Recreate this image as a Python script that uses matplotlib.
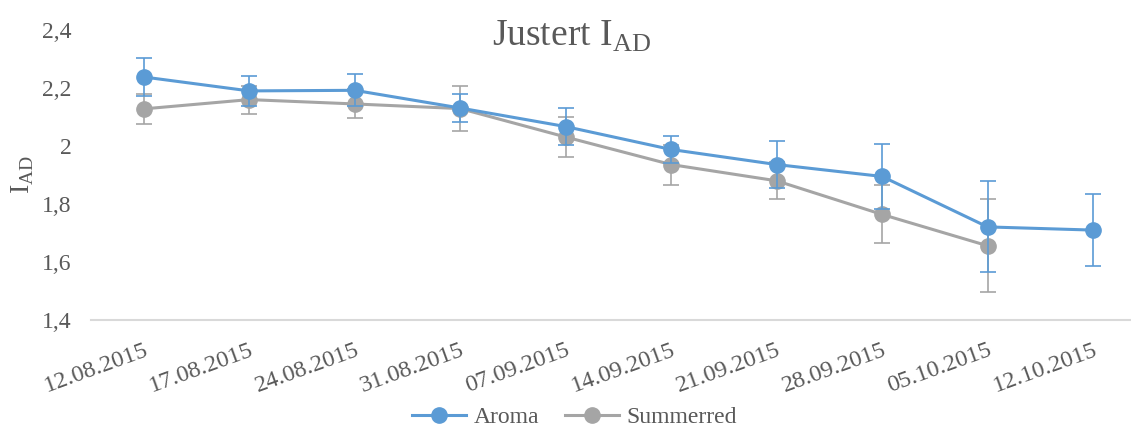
import matplotlib
matplotlib.use("Agg")
import matplotlib.pyplot as plt

plt.rcParams["font.family"] = ["Liberation Serif", "DejaVu Serif"]
plt.rcParams["mathtext.fontset"] = "custom"
plt.rcParams["mathtext.rm"] = "Liberation Serif"

dates = ["12.08.2015", "17.08.2015", "24.08.2015", "31.08.2015", "07.09.2015",
         "14.09.2015", "21.09.2015", "28.09.2015", "05.10.2015", "12.10.2015"]
aroma = [2.238, 2.190, 2.192, 2.131, 2.067, 1.988, 1.936, 1.895, 1.721, 1.710]
aroma_err = [0.066, 0.052, 0.055, 0.048, 0.063, 0.048, 0.081, 0.113, 0.157, 0.124]
summerred = [2.128, 2.160, 2.145, 2.129, 2.031, 1.936, 1.880, 1.764, 1.656]
summerred_err = [0.052, 0.048, 0.050, 0.078, 0.070, 0.069, 0.064, 0.100, 0.160]

blue = "#5B9BD5"
grey = "#A5A5A5"
text_col = "#595959"

fig = plt.figure(figsize=(11.31, 4.28), dpi=100)
ax = fig.add_axes([91 / 1131, 1 - 320 / 428, 1040 / 1131, 290 / 428])

x_a = list(range(len(aroma)))
x_s = list(range(len(summerred)))

ax.errorbar(x_s, summerred, yerr=summerred_err, color=grey, ecolor=grey,
            elinewidth=1.2, capsize=5.5, capthick=1.2, lw=2.2, marker="o",
            markersize=11, label="Summerred", zorder=3)
ax.errorbar(x_a, aroma, yerr=aroma_err, color=blue, ecolor=blue,
            elinewidth=1.2, capsize=5.5, capthick=1.2, lw=2.2, marker="o",
            markersize=11, label="Aroma", zorder=4)

ax.set_xlim(-0.5, 9.36)
ax.set_ylim(1.4, 2.4)
ax.set_yticks([1.4, 1.6, 1.8, 2.0, 2.2, 2.4])
ax.set_yticklabels(["1,4", "1,6", "1,8", "2", "2,2", "2,4"])
ax.set_xticks(range(len(dates)))
ax.set_xticklabels(dates, rotation=20, ha="right", va="top", rotation_mode="anchor")

for side in ["top", "right", "left"]:
    ax.spines[side].set_visible(False)
ax.spines["bottom"].set_color("#D9D9D9")
ax.spines["bottom"].set_linewidth(1.5)
ax.tick_params(axis="both", length=0, colors=text_col)
ax.tick_params(axis="y", pad=14, labelsize=17)
ax.tick_params(axis="x", pad=14, labelsize=17.5)

ax.set_ylabel(r"I$_{\mathrm{AD}}$", fontsize=20, color=text_col)
ax.yaxis.set_label_coords(-0.053, 0.5)
fig.text(0.505, 0.915, r"Justert I$_{\mathrm{AD}}$", fontsize=27, color=text_col,
         ha="center", va="center")

handles, labels = ax.get_legend_handles_labels()
handles = [h[0] for h in handles][::-1]
labels = labels[::-1]
fig.legend(handles, labels, loc="center", bbox_to_anchor=(0.508, 0.025), ncol=2,
           frameon=False, fontsize=17, labelcolor=text_col, handlelength=2.3,
           columnspacing=1.1, handletextpad=0.3)

fig.savefig("out.png", dpi=100)
